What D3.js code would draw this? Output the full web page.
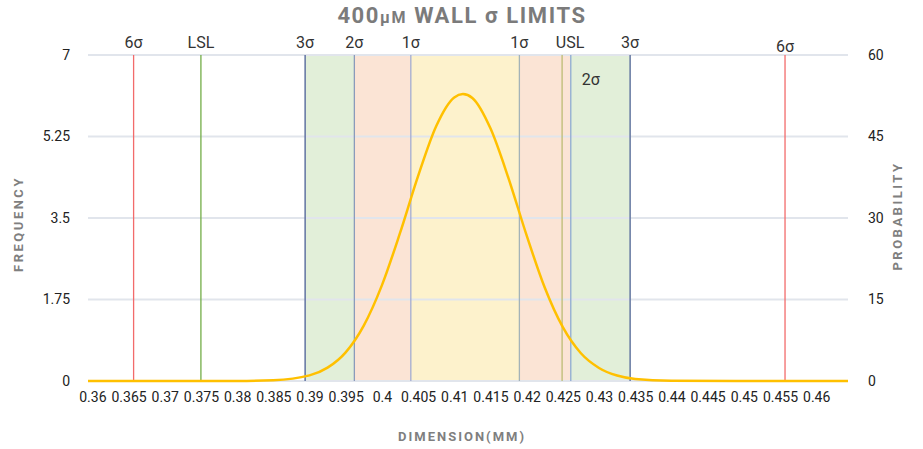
<!DOCTYPE html>
<meta charset="utf-8">
<head>
<style>
html, body {margin:0px; padding:0px; background:#fff;}
text {font-family: "Roboto", "Inter", sans-serif;}
</style>
</head>
<script src="https://d3js.org/d3.v7.min.js"></script>
<div id="my_dataviz"></div>
<script>

// tick labels
var xTicks = [0.36,0.365,0.37,0.375,0.38,0.385,0.39,0.395,0.4,0.405,0.41,0.415,0.42,0.425,0.43,0.435,0.44,0.445,0.45,0.455,0.46]
var freqTicks = [0, 1.75, 3.5, 5.25, 7]
var probTicks = [0, 15, 30, 45, 60]

// fitted curve (dimension, probability)
var curveX = [0.3594,0.37,0.38,0.385,0.39,0.3925,0.395,0.3975,0.40,0.4025,0.405,0.4075,0.41,0.4112,0.4125,0.415,0.4175,0.42,0.4225,0.425,0.4275,0.43,0.4325,0.435,0.44,0.45,0.4644]
var curveY = [0,0,0.01,0.13,1.03,2.46,5.28,10.2,17.6,27.2,37.7,46.9,52.2,52.8,52.1,46.5,37.3,26.8,17.2,9.9,5.1,2.4,1.0,0.37,0.04,0,0]

// limit lines
var lineNames = ["6σ","LSL","3σ","2σ","1σ","1σ","USL","2σ","3σ","6σ"]
var lineValues = [0.3657,0.375,0.3894,0.3962,0.4040,0.4190,0.4249,0.4261,0.4343,0.4557]
var lineColors = ["#f26b6b","#72ad47","#6a7ba6","#8b9bbb","#a3acd0","#a3b3b8","#bcbc74","#8eabd2","#6d7fa6","#f26b6b"]

// sigma bands
var bandFrom = [0.3894,0.3962,0.4040,0.4190,0.4261]
var bandTo   = [0.3962,0.4040,0.4190,0.4261,0.4343]
var bandColors = ["#e2efd9","#fbe4d5","#fdf2cc","#fbe4d5","#e2efd9"]

var W = 923, H = 449
var margin = {top: 55, right: 75, bottom: 68, left: 88}
var width = W - margin.left - margin.right
var height = H - margin.top - margin.bottom

var svg = d3.select("#my_dataviz")
  .append("svg")
    .attr("width", W)
    .attr("height", H)

var g = svg.append("g")
    .attr("transform", "translate(" + margin.left + "," + margin.top + ")")

var x = d3.scaleLinear().domain([0.3594, 0.4644]).range([0, width])
var yF = d3.scaleLinear().domain([0, 7]).range([height, 0])
var yP = d3.scaleLinear().domain([0, 60]).range([height, 0])

// bands
g.selectAll(".band")
  .data(bandFrom)
  .enter()
  .append("rect")
    .attr("x", function(d){ return x(d) })
    .attr("y", yF(7))
    .attr("width", function(d,i){ return x(bandTo[i]) - x(d) })
    .attr("height", yF(0) - yF(7))
    .style("fill", function(d,i){ return bandColors[i] })

// gridlines
g.selectAll(".grid")
  .data(freqTicks)
  .enter()
  .append("line")
    .attr("x1", 0).attr("x2", width)
    .attr("y1", function(d){ return yF(d) })
    .attr("y2", function(d){ return yF(d) })
    .style("stroke", "#e1e5ec")
    .style("stroke-width", 2)

// limit lines
g.selectAll(".limit")
  .data(lineValues)
  .enter()
  .append("line")
    .attr("x1", function(d){ return x(d) })
    .attr("x2", function(d){ return x(d) })
    .attr("y1", yF(7)).attr("y2", yF(0))
    .style("stroke", function(d,i){ return lineColors[i] })
    .style("stroke-width", function(d,i){ return (i==2||i==8) ? 1.6 : 1.3 })

// limit labels
var labelShift = [0,0,0,0,0,0,8,0,0,0]
g.selectAll(".lbl")
  .data(lineValues)
  .enter()
  .append("text")
    .attr("x", function(d,i){ return x(d) + labelShift[i] })
    .attr("y", function(d,i){ return i==9 ? -3 : -7 })
    .attr("text-anchor", "middle")
    .style("font-size", "16px")
    .style("fill", "#333")
    .text(function(d,i){ return i==7 ? "" : lineNames[i] })

// right 2σ label sits inside the band
g.append("text")
  .attr("x", x(lineValues[7]) + 20)
  .attr("y", 30)
  .attr("text-anchor", "middle")
  .style("font-size", "16px")
  .style("fill", "#333")
  .text(lineNames[7])

// curve
var line = d3.line()
  .x(function(d){ return x(d[0]) })
  .y(function(d){ return yP(d[1]) })
  .curve(d3.curveMonotoneX)

g.append("path")
  .datum(curveX.map(function(d,i){ return [d, curveY[i]] }))
  .attr("d", line)
  .style("fill", "none")
  .style("stroke", "#ffc000")
  .style("stroke-width", 2.5)

// axes
var xAxis = g.append("g")
  .attr("transform", "translate(0," + height + ")")
  .call(d3.axisBottom(x).tickValues(xTicks).tickSize(0).tickPadding(11).tickFormat(function(d){ return String(+d.toFixed(3)) }))
xAxis.select(".domain").remove()
xAxis.selectAll("text").style("font-size", "14px").style("fill", "#222").style("font-family", "Roboto")

var yAxisL = g.append("g")
  .call(d3.axisLeft(yF).tickValues(freqTicks).tickSize(0).tickPadding(18).tickFormat(function(d){ return String(d) }))
yAxisL.select(".domain").remove()
yAxisL.selectAll("text").style("font-size", "14px").style("fill", "#222").style("font-family", "Roboto")

var yAxisR = g.append("g")
  .attr("transform", "translate(" + width + ",0)")
  .call(d3.axisRight(yP).tickValues(probTicks).tickSize(0).tickPadding(20))
yAxisR.select(".domain").remove()
yAxisR.selectAll("text").style("font-size", "14px").style("fill", "#222").style("font-family", "Roboto")

// titles
svg.append("text")
  .attr("x", 462).attr("y", 23)
  .attr("text-anchor", "middle")
  .style("font-size", "22px")
  .style("font-weight", "bold")
  .style("letter-spacing", "1.6px")
  .style("fill", "#7b7b7b")
  .html('400<tspan style="font-size:16px">μM</tspan> WALL σ LIMITS')

svg.append("text")
  .attr("x", 462).attr("y", 441)
  .attr("text-anchor", "middle")
  .style("font-size", "13px")
  .style("font-weight", "bold")
  .style("letter-spacing", "2px")
  .style("fill", "#7f7f7f")
  .text("DIMENSION(MM)")

svg.append("text")
  .attr("transform", "translate(23,224) rotate(-90)")
  .attr("text-anchor", "middle")
  .style("font-size", "13px")
  .style("font-weight", "bold")
  .style("letter-spacing", "2.5px")
  .style("fill", "#7f7f7f")
  .text("FREQUENCY")

svg.append("text")
  .attr("transform", "translate(902,216) rotate(-90)")
  .attr("text-anchor", "middle")
  .style("font-size", "13px")
  .style("font-weight", "bold")
  .style("letter-spacing", "2.5px")
  .style("fill", "#7f7f7f")
  .text("PROBABILITY")

</script>
</html>
